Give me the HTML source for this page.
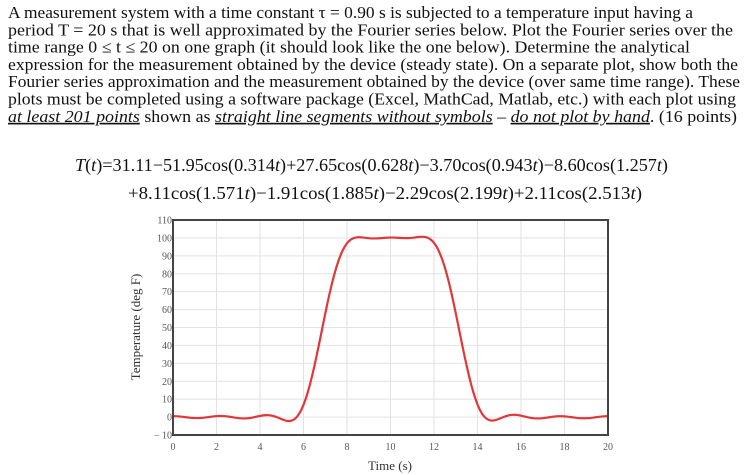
<!DOCTYPE html>
<html><head><meta charset="utf-8"><style>
html,body{margin:0;padding:0;background:#fff;}
svg{display:block;font-family:"Liberation Serif",serif;}
</style></head><body>
<svg id="root" width="746" height="475" viewBox="0 0 746 475">
<g font-size="16.5" fill="#111">
<text x="8" y="18" textLength="685" lengthAdjust="spacingAndGlyphs">A measurement system with a time constant τ = 0.90 s is subjected to a temperature input having a</text>
<text x="8" y="35.3" textLength="725" lengthAdjust="spacingAndGlyphs">period T = 20 s that is well approximated by the Fourier series below. Plot the Fourier series over the</text>
<text x="8" y="52.6" textLength="682" lengthAdjust="spacingAndGlyphs">time range 0 ≤ t ≤ 20 on one graph (it should look like the one below). Determine the analytical</text>
<text x="8" y="69.9" textLength="730" lengthAdjust="spacingAndGlyphs">expression for the measurement obtained by the device (steady state). On a separate plot, show both the</text>
<text x="8" y="87.2" textLength="732" lengthAdjust="spacingAndGlyphs">Fourier series approximation and the measurement obtained by the device (over same time range). These</text>
<text x="8" y="104.5" textLength="728" lengthAdjust="spacingAndGlyphs">plots must be completed using a software package (Excel, MathCad, Matlab, etc.) with each plot using</text>
<text x="8" y="121.8" textLength="729" lengthAdjust="spacingAndGlyphs"><tspan font-style="italic" text-decoration="underline">at least 201 points</tspan> shown as <tspan font-style="italic" text-decoration="underline">straight line segments without symbols</tspan> – <tspan font-style="italic" text-decoration="underline">do not plot by hand</tspan>. (16 points)</text>
</g>
<g font-size="18" fill="#111">
<text x="75" y="171" textLength="593" lengthAdjust="spacingAndGlyphs"><tspan font-style="italic">T</tspan>(<tspan font-style="italic">t</tspan>)=31.11−51.95cos(0.314<tspan font-style="italic">t</tspan>)+27.65cos(0.628<tspan font-style="italic">t</tspan>)−3.70cos(0.943<tspan font-style="italic">t</tspan>)−8.60cos(1.257<tspan font-style="italic">t</tspan>)</text>
<text x="128" y="199" textLength="514" lengthAdjust="spacingAndGlyphs">+8.11cos(1.571<tspan font-style="italic">t</tspan>)−1.91cos(1.885<tspan font-style="italic">t</tspan>)−2.29cos(2.199<tspan font-style="italic">t</tspan>)+2.11cos(2.513<tspan font-style="italic">t</tspan>)</text>
</g>
<g id="chart"></g>
</svg>
<script>
const meanValue = 31.11;
const amplitudes = [-51.95, 27.65, -3.70, -8.60, 8.11, -1.91, -2.29, 2.11];
const frequencies = [0.314, 0.628, 0.943, 1.257, 1.571, 1.885, 2.199, 2.513];
const xTicks = [0, 2, 4, 6, 8, 10, 12, 14, 16, 18, 20];
const yTicks = [-10, 0, 10, 20, 30, 40, 50, 60, 70, 80, 90, 100, 110];
const sampleCount = 201;

const NS = "http://www.w3.org/2000/svg";
const L = 173, R = 608, T = 220, B = 435;
const xMin = 0, xMax = 20, yMin = -10, yMax = 110;
const xs = v => L + (v - xMin) / (xMax - xMin) * (R - L);
const ys = v => B - (v - yMin) / (yMax - yMin) * (B - T);
const g = document.getElementById('chart');
function mk(tag, attrs, parent) {
  const e = document.createElementNS(NS, tag);
  for (const k in attrs) e.setAttribute(k, attrs[k]);
  (parent || g).appendChild(e);
  return e;
}
const bg = mk('rect', {x: L, y: T, width: R - L, height: B - T, fill: '#fff'});


xTicks.forEach(v => {
  const ln = mk('line', {x1: xs(v), x2: xs(v), y1: T, y2: B, stroke: '#e2e2e2', 'stroke-width': 1});
  
  
  const t = mk('text', {x: xs(v), y: 450, 'text-anchor': 'middle', 'font-size': 10, fill: '#555'});
  t.textContent = v;
  
  
});
yTicks.forEach(v => {
  const ln = mk('line', {x1: L, x2: R, y1: ys(v), y2: ys(v), stroke: '#e2e2e2', 'stroke-width': 1});
  
  
  const t = mk('text', {x: L - 1, y: ys(v) + 3.5, 'text-anchor': 'end', 'font-size': 10, fill: '#555'});
  t.textContent = v < 0 ? '− ' + Math.abs(v) : v;
  
  
});
let d = '';
for (let i = 0; i < sampleCount; i++) {
  const t = xMin + i * (xMax - xMin) / (sampleCount - 1);
  let y = meanValue;
  for (let k = 0; k < amplitudes.length; k++) y += amplitudes[k] * Math.cos(frequencies[k] * t);
  d += (i ? 'L' : 'M') + xs(t).toFixed(2) + ',' + ys(y).toFixed(2);
}
const line = mk('path', {d: d, fill: 'none', stroke: '#e2373a', 'stroke-width': 2.2, 'stroke-linejoin': 'round'});


const frame = mk('rect', {x: L, y: T, width: R - L, height: B - T, fill: 'none', stroke: '#444', 'stroke-width': 2});


const xt = mk('text', {x: 390, y: 470, 'text-anchor': 'middle', 'font-size': 13, fill: '#333'});
xt.textContent = 'Time (s)';


const yt = mk('text', {x: 0, y: 0, 'text-anchor': 'middle', 'font-size': 13, fill: '#333', transform: 'translate(140,327) rotate(-90)'});
yt.textContent = 'Temperature (deg F)';


</script>
</body></html>
